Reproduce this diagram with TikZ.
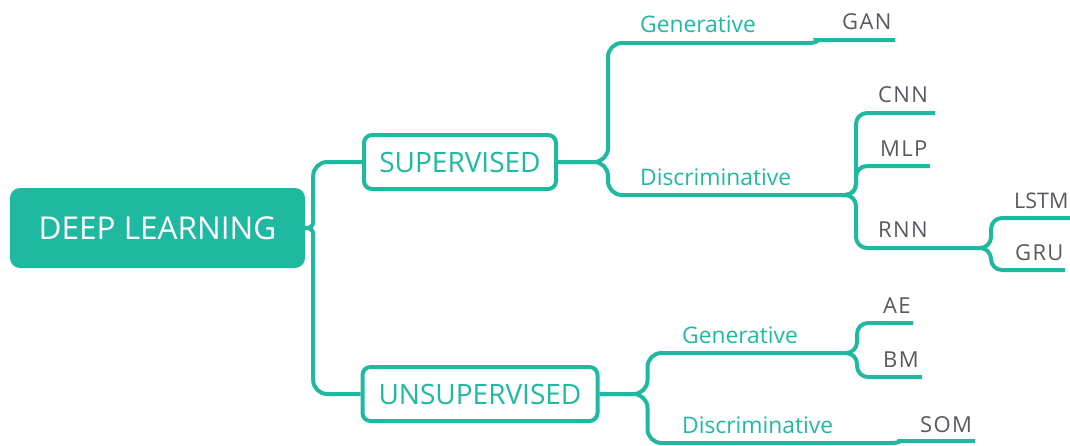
\documentclass[tikz,border=0pt]{standalone}
\usepackage{fontspec}
\setmainfont{Open Sans}
\usetikzlibrary{positioning}
\definecolor{mapteal}{RGB}{31,185,161}
\definecolor{leafgray}{RGB}{88,89,96}

\begin{document}
\begin{tikzpicture}[x=1pt,y=-1pt,
	branch/.style={draw=mapteal,line width=4pt,rounded corners=14pt},
	twig/.style={draw=mapteal,line width=4pt,rounded corners=11pt},
	rootbox/.style={fill=mapteal,rounded corners=10pt,text=white,minimum width=295pt,minimum height=80pt,font=\fontsize{31.5}{36}\selectfont},
	topicbox/.style={draw=mapteal,line width=4pt,fill=white,rounded corners=8pt,text=mapteal,minimum height=54pt,font=\fontsize{28}{32}\selectfont},
	kind/.style={anchor=base west,inner sep=0pt,text=mapteal,font=\fontsize{22.8}{26}\selectfont},
	leaf/.style={anchor=base west,inner sep=0pt,text=leafgray,font=\fontsize{22}{26}\selectfont\addfontfeatures{LetterSpace=6}}]
	\useasboundingbox (0,0) rectangle (1070,445);

	% draw main topics
	\node (root) at (157.5,228) [rootbox] {DEEP LEARNING};
	\node (sup) at (460,162) [topicbox,minimum width=192pt] {SUPERVISED};
	\node (unsup) at (480,394) [topicbox,minimum width=235pt] {UNSUPERVISED};

	% ends of the branch lines
	\coordinate (g1e) at (808,43);
	\coordinate (gane) at (895,40);
	\coordinate (d1e) at (842,195);
	\coordinate (cnne) at (935,113);
	\coordinate (mlpe) at (930,166);
	\coordinate (rnne) at (977,248);
	\coordinate (lstme) at (1072,218);
	\coordinate (grue) at (1065,270);
	\coordinate (g2e) at (845,353);
	\coordinate (aee) at (913,323);
	\coordinate (bme) at (922,377);
	\coordinate (d2e) at (890,443);
	\coordinate (some) at (975,441);

	% draw lines from root to topics
	\draw[branch] (root.east) [rounded corners=6pt] -- ++(8,0) [rounded corners=14pt] |- (sup.west);
	\draw[branch] (root.east) [rounded corners=6pt] -- ++(8,0) [rounded corners=14pt] |- (unsup.west);

	% draw lines from topics to kinds
	\draw[branch] (sup.east) -- ++(50,0) |- (g1e);
	\draw[branch] (sup.east) -- ++(50,0) |- (d1e);
	\draw[branch] (unsup.east) -- ++(48,0) |- (g2e);
	\draw[branch] (unsup.east) -- ++(48,0) |- (d2e);

	% draw lines from kinds to models
	\draw[twig] (g1e) .. controls +(10,0) and +(-10,0) .. ++(20,-3) -- (gane);
	\draw[twig] (d1e) -- ++(14,0) |- (cnne);
	\draw[twig] (d1e) -- ++(14,0) |- (mlpe);
	\draw[twig] (d1e) -- ++(14,0) |- (rnne);
	\draw[twig] (rnne) -- ++(14,0) |- (lstme);
	\draw[twig] (rnne) -- ++(14,0) |- (grue);
	\draw[twig] (g2e) -- ++(12,0) |- (aee);
	\draw[twig] (g2e) -- ++(12,0) |- (bme);
	\draw[twig] (d2e) .. controls +(10,0) and +(-10,0) .. ++(20,-2) -- (some);

	% draw kind labels
	\node (gen1) at (640,32) [kind] {Generative};
	\node (dis1) at (640,185) [kind] {Discriminative};
	\node (gen2) at (682,343) [kind] {Generative};
	\node (dis2) at (682,433) [kind] {Discriminative};

	% draw model labels
	\node (gan) at (842,29) [leaf] {GAN};
	\node (cnn) at (878,102) [leaf] {CNN};
	\node (mlp) at (880,156) [leaf] {MLP};
	\node (rnn) at (878,237) [leaf] {RNN};
	\node (lstm) at (1014,208) [leaf,font=\fontsize{21.5}{26}\selectfont] {LSTM};
	\node (gru) at (1015,260) [leaf] {GRU};
	\node (ae) at (883,313) [leaf] {AE};
	\node (bm) at (883,367) [leaf] {BM};
	\node (som) at (920,432) [leaf] {SOM};
\end{tikzpicture}
\end{document}
